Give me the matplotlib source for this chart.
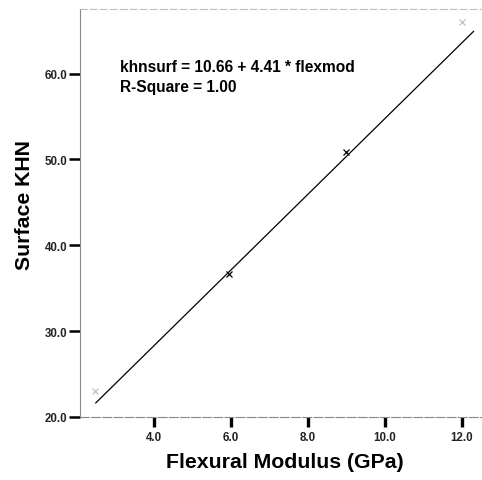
import numpy as np
import matplotlib.pyplot as plt

flexmod = [2.47, 5.95, 9.0, 12.0]
khnsurf = [23.0, 36.6, 50.9, 66.0]
point_alpha = [0.25, 1.0, 1.0, 0.25]

# Fitted line khnsurf = 10.66 + 4.41 * flexmod
intercept = 10.66
slope = 4.41
fit_range = [2.49, 12.3]

xticks = [4.0, 6.0, 8.0, 10.0, 12.0]
yticks = [20.0, 30.0, 40.0, 50.0, 60.0]

plt.rcParams['font.family'] = ['Liberation Sans', 'DejaVu Sans']

fig = plt.figure(figsize=(4.82, 4.81), dpi=100)
ax = fig.add_axes([0.166, 0.131, 0.834, 0.848])

xs = np.array(fit_range)
ax.plot(xs, intercept + slope * xs, color='black', linewidth=0.9)

for x, y, a in zip(flexmod, khnsurf, point_alpha):
    ax.plot(x, y, marker='x', markersize=4, color='black', alpha=a,
            markeredgewidth=0.9)

ax.set_xlim(2.08, 12.52)
ax.set_ylim(20.0, 67.5)
ax.set_xticks(xticks)
ax.set_yticks(yticks)
ax.set_xticklabels([f"{t:.1f}" for t in xticks])
ax.set_yticklabels([f"{t:.1f}" for t in yticks])

ax.spines['right'].set_visible(False)
ax.spines['top'].set_color('#bbbbbb')
ax.spines['top'].set_linestyle((0, (6, 3)))
ax.spines['top'].set_linewidth(0.8)
ax.spines['left'].set_color('#888888')
ax.spines['left'].set_linewidth(0.8)
ax.spines['bottom'].set_color('#888888')
ax.spines['bottom'].set_linestyle((0, (8, 2)))
ax.spines['bottom'].set_linewidth(0.8)

ax.tick_params(axis='y', direction='out', length=8, width=1.8, color='black',
               labelsize=8.3, pad=1)
ax.tick_params(axis='x', direction='out', length=7, width=2.4, color='black',
               labelsize=8.3, pad=3)
for lab in ax.get_xticklabels() + ax.get_yticklabels():
    lab.set_color('#222222')
    lab.set_fontweight('bold')

ax.set_xlabel("Flexural Modulus (GPa)", fontsize=15.3, fontweight='bold', va='center')
ax.set_ylabel("Surface KHN", fontsize=15.3, fontweight='bold', va='center')
ax.xaxis.set_label_coords(0.51, -0.108)
ax.yaxis.set_label_coords(-0.137, 0.522)

ax.text(0.1, 0.877, "khnsurf = 10.66 + 4.41 * flexmod\nR-Square = 1.00",
        transform=ax.transAxes, fontsize=11.2, fontweight='bold',
        va='top', ha='left', linespacing=1.38)

plt.savefig("out.png", dpi=100)
